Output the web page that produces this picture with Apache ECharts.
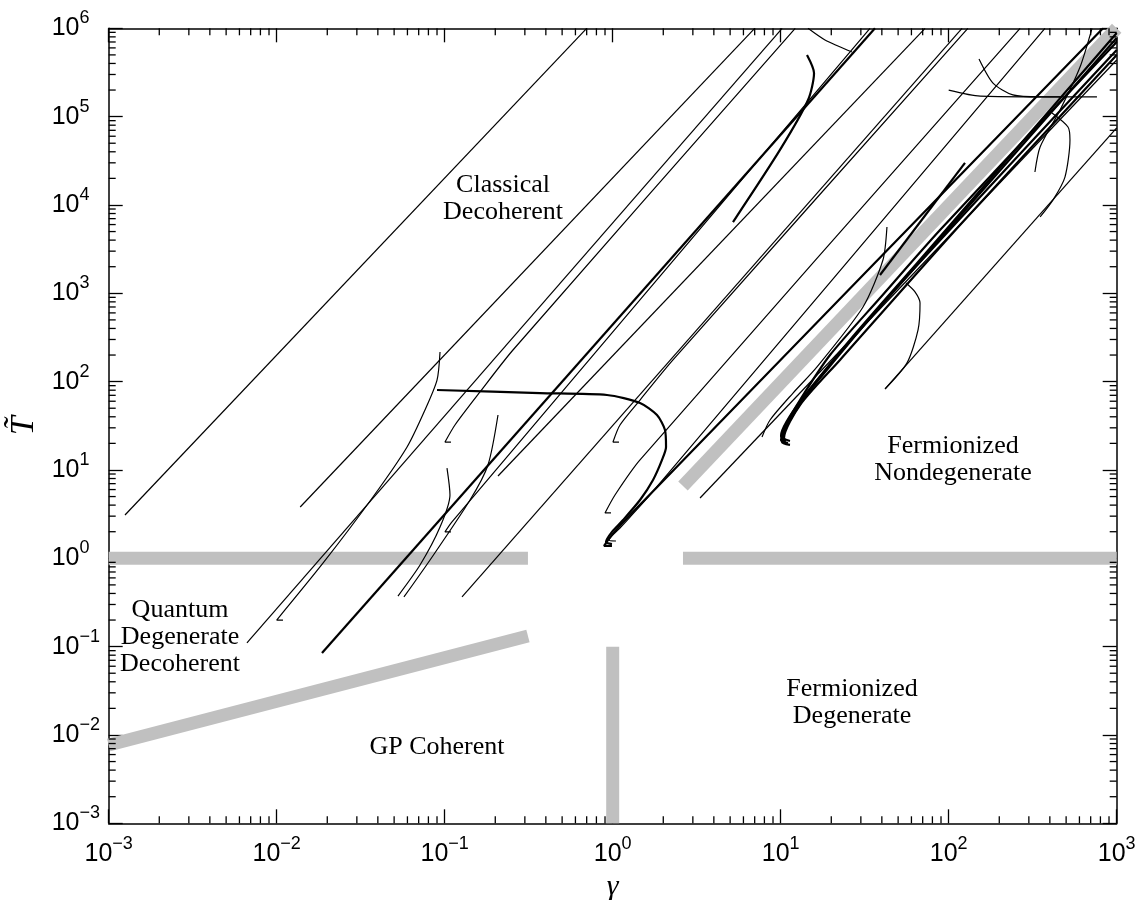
<!DOCTYPE html>
<html><head><meta charset="utf-8">
<script src="https://cdn.jsdelivr.net/npm/echarts@6/dist/echarts.min.js"></script>
<style>html,body{margin:0;padding:0;background:#fff}#c{width:1146px;height:900px}</style>
</head><body><div id="c"></div>
<script>
// ---- axis ranges and ticks ----
const xRange = [1e-3, 1e3];
const yRange = [1e-3, 1e6];
const minorMultipliers = [2, 3, 4, 5, 6, 7, 8, 9];
const xDecades = [1e-3, 1e-2, 1e-1, 1, 10, 100];
const yDecades = [1e-3, 1e-2, 1e-1, 1, 10, 100, 1e3, 1e4, 1e5];

// ---- gray regime boundaries [gamma, T] ----
const bandLeftT1 = [[0.001, 1], [0.313, 1]];
const bandRightT1 = [[2.62, 1], [1000, 1]];
const bandGamma1 = [[1, 0.1], [1, 0.001]];
const bandGP = [[0.001, 0.0077], [0.313, 0.132]];
const bandFermi = [[2.62, 6.6], [1000, 1e6]];

// ---- trajectories [gamma, T] ----
const tr01 = [[0.00125, 3.09], [0.70, 1e6]];
const tr02 = [[0.0138, 3.81], [7.0, 1e6]];
const tr03 = [[0.00665, 0.110], [10.2, 1e6]];
const tr04 = [[0.0109, 0.200], [0.0100, 0.200], [0.0189, 0.885], [0.0374, 4.94], [0.0597, 18.2], [0.0763, 47.7], [0.0900, 104], [0.0938, 217]];
const tr05 = [[0.0186, 0.0848], [36.4, 1e6]];
const tr06 = [[0.109, 1.99], [0.1004, 1.99], [0.1105, 2.58], [34.0, 1e6]];
const tr07 = [[0.0527, 0.374], [0.0713, 0.84], [0.0938, 2.26], [0.1075, 5.21], [0.1032, 10.5]];
const tr08 = [[0.0572, 0.365], [0.0818, 0.957], [0.1415, 4.57], [0.181, 11.4], [0.2076, 41.9]];
const tr09 = [[0.109, 20.7], [0.1004, 20.7], [0.1151, 32.3], [0.1622, 76.4], [0.2549, 228], [12.2, 1e6]];
const tr10 = [[0.1268, 0.365], [120, 1e6]];
const tr11 = [[0.2076, 8.55], [72.3, 1e6]];
const tr12 = [[0.090, 80.4], [0.369, 74.3], [0.925, 70.6], [1.454, 57.3], [1.835, 41.9], [2.048, 28.3], [2.077, 18.2], [1.966, 13.0], [1.738, 7.71], [1.454, 4.57], [1.152, 2.71], [0.99, 1.99], [0.912, 1.53], [0.99, 1.45]];
const tr13 = [[1.09, 20.7], [1.004, 20.7], [1.105, 32.3], [1.454, 61.9], [2.285, 176], [130, 1e6]];
const tr14 = [[0.99, 1.38], [0.888, 1.38], [0.99, 1.84], [1.268, 3.09], [829, 1e6]];
const tr15 = [[1.046, 1.57], [0.951, 1.61], [1.105, 2.20], [1.667, 5.21], [374, 1e6]];
const tr16 = [[0.977, 3.26], [0.90, 3.26], [1.032, 5.21], [1.454, 13.0], [266, 1e6]];
const tr17 = [[3.31, 4.82], [1000, 4.38e5]];
const tr18 = [[42.9, 5640], [40.6, 2380], [30.9, 700], [16.45, 147], [11.84, 74.3], [8.64, 36.8], [7.74, 23.6]];
const tr19 = [[11.36, 19.2], [10.18, 20.7], [10.75, 32.3], [13.03, 61.9], [19.66, 200], [39, 885], [88.8, 5210], [1000, 7.0e5]];
const tr20 = [[11.05, 20.2], [10.04, 21.8], [11.36, 36.8], [14.94, 80.4], [25.85, 296], [65.7, 2260], [1000, 8.85e5]];
const tr21 = [[10.75, 21.3], [10.18, 22.4], [12.17, 47.7], [19.66, 150], [44.7, 957], [1000, 5.68e5]];
const tr22 = [[11.36, 21.3], [10.46, 23.0], [13.03, 54.4], [22.54, 176], [116.8, 5930], [1000, 4.99e5]];
const tr23 = [[10.61, 21.8], [10.04, 24.3], [13.95, 70.6], [29.65, 385], [1000, 7.77e5]];
const tr24 = [[41.8, 82.6], [1000, 7.45e4]];
const tr25 = [[55.7, 1310], [63.0, 1040], [67.5, 777], [65.7, 385], [56.5, 163], [41.8, 82.6]];
const tr26 = [[14.34, 4.99e5], [15.79, 3.12e5], [14.54, 1.54e5], [9.9, 4.2e4], [5.2, 6410]];
const tr27 = [[14.54, 1e6], [18.35, 7.38e5], [26.57, 5.39e5]];
const tr28 = [[151.5, 4.5e5], [183.5, 2.4e5], [241, 1.76e5], [350, 1.67e5], [460, 1.67e5]];
const tr29 = [[100, 2.0e5], [154, 1.71e5], [763, 1.67e5]];
const tr30 = [[713, 1e6], [605, 3.65e5], [460, 1.19e5], [350, 4.53e4], [326, 2.36e4]];
const tr31 = [[412, 1.1e5], [513, 7.64e4], [527, 5.44e4], [492, 2.07e4], [418, 1.14e4], [350, 7310]];
const tr32 = [[125, 2.99e4], [39, 1610]];

const thinTracks = [tr01, tr02, tr03, tr04, tr06, tr07, tr08, tr09, tr10, tr11, tr13, tr15, tr16, tr17, tr18, tr24, tr25, tr27, tr28, tr29, tr30, tr31];
const thickTracks = [tr05, tr12, tr14, tr19, tr20, tr21, tr22, tr23, tr26, tr32];
const bands = [bandLeftT1, bandRightT1, bandGamma1, bandGP, bandFermi];

// ---- region labels ----
const regionLabels = [
  { text: 'Classical\nDecoherent', x: 503, y: 199 },
  { text: 'Quantum\nDegenerate\nDecoherent', x: 180, y: 637 },
  { text: 'GP Coherent', x: 437, y: 747 },
  { text: 'Fermionized\nNondegenerate', x: 953, y: 460 },
  { text: 'Fermionized\nDegenerate', x: 852, y: 703 }
];

const xMinor = xDecades.flatMap(d => minorMultipliers.map(m => m * d));
const yMinor = yDecades.flatMap(d => minorMultipliers.map(m => m * d));

function expLabel(v) {
  const e = Math.round(Math.log10(v));
  const s = e < 0 ? '\u2212' + (-e) : String(e);
  return '{b|10}{e|' + s + '}';
}
const richStyle = {
  b: { fontFamily: 'Liberation Sans', fontSize: 25, color: '#000' },
  e: { fontFamily: 'Liberation Sans', fontSize: 18, color: '#000', padding: [0, 0, 20, 0] }
};

function makeAxis(pos, range, split, showLabel, extra) {
  return Object.assign({
    type: 'log', logBase: 10, position: pos, min: range[0], max: range[1], splitNumber: split,
    axisLine: { show: true, onZero: false, lineStyle: { color: '#000', width: 1.5 } },
    axisTick: { show: true, inside: true, length: 14, lineStyle: { color: '#000', width: 1.3 } },
    splitLine: { show: false },
    minorTick: { show: false },
    axisLabel: showLabel ? { formatter: expLabel, rich: richStyle } : { show: false }
  }, extra || {});
}

const series = [];
bands.forEach(b => series.push({
  type: 'line', data: b, showSymbol: false, silent: true, z: 1, animation: false,
  lineStyle: { color: '#c0c0c0', width: 13, cap: 'butt' }
}));
thinTracks.forEach(t => series.push({
  type: 'line', data: t, showSymbol: false, silent: true, z: 3, animation: false, smooth: 0.25,
  lineStyle: { color: '#000', width: 1.2 }
}));
thickTracks.forEach(t => series.push({
  type: 'line', data: t, showSymbol: false, silent: true, z: 3, animation: false, smooth: 0.25,
  lineStyle: { color: '#000', width: 2.2 }
}));
// minor ticks (bottom/top and left/right), drawn through the axis scales
series.push({
  type: 'custom', silent: true, z: 6, animation: false,
  data: xMinor.map(v => [v, 1]), encode: { x: 0, y: 1 },
  renderItem(params, api) {
    const cs = params.coordSys;
    const x = api.coord([api.value(0), 1])[0];
    const b = cs.y + cs.height, t = cs.y;
    return { type: 'group', children: [
      { type: 'line', shape: { x1: x, y1: b, x2: x, y2: b - 7 }, style: { stroke: '#000', lineWidth: 1.3 } },
      { type: 'line', shape: { x1: x, y1: t, x2: x, y2: t + 7 }, style: { stroke: '#000', lineWidth: 1.3 } }
    ] };
  }
});
series.push({
  type: 'custom', silent: true, z: 6, animation: false,
  data: yMinor.map(v => [1, v]), encode: { x: 0, y: 1 },
  renderItem(params, api) {
    const cs = params.coordSys;
    const y = api.coord([1, api.value(1)])[1];
    const l = cs.x, r = cs.x + cs.width;
    return { type: 'group', children: [
      { type: 'line', shape: { x1: l, y1: y, x2: l + 7, y2: y }, style: { stroke: '#000', lineWidth: 1.3 } },
      { type: 'line', shape: { x1: r, y1: y, x2: r - 7, y2: y }, style: { stroke: '#000', lineWidth: 1.3 } }
    ] };
  }
});

const chart = echarts.init(document.getElementById('c'), null, { renderer: 'canvas' });
chart.setOption({
  animation: false,
  backgroundColor: '#fff',
  grid: { left: 108.7, right: 29.3, top: 28.3, bottom: 76.7, containLabel: false, outerBoundsMode: 'none' },
  xAxis: [
    makeAxis('bottom', xRange, 6, true, {
      name: '\u03b3', nameLocation: 'middle', nameGap: 31,
      nameTextStyle: { fontFamily: 'Liberation Serif', fontStyle: 'italic', fontSize: 30, color: '#000' },
      axisLabel: { formatter: expLabel, rich: richStyle, margin: 12 }
    }),
    makeAxis('top', xRange, 6, false)
  ],
  yAxis: [
    makeAxis('left', yRange, 9, true, {
      name: 'T\u0303', nameLocation: 'middle', nameGap: 64, nameRotate: 90,
      nameTextStyle: { fontFamily: 'Liberation Serif', fontStyle: 'italic', fontSize: 34, color: '#000' },
      axisLabel: { formatter: expLabel, rich: richStyle, align: 'left', margin: 57 }
    }),
    makeAxis('right', yRange, 9, false)
  ],
  graphic: regionLabels.map(l => ({
    type: 'text', x: l.x, y: l.y, z: 10, silent: true,
    style: { text: l.text, fontFamily: 'Liberation Serif', fontSize: 26, lineHeight: 27,
      fill: '#000', align: 'center', verticalAlign: 'middle' }
  })),
  series: series
});
</script></body></html>
